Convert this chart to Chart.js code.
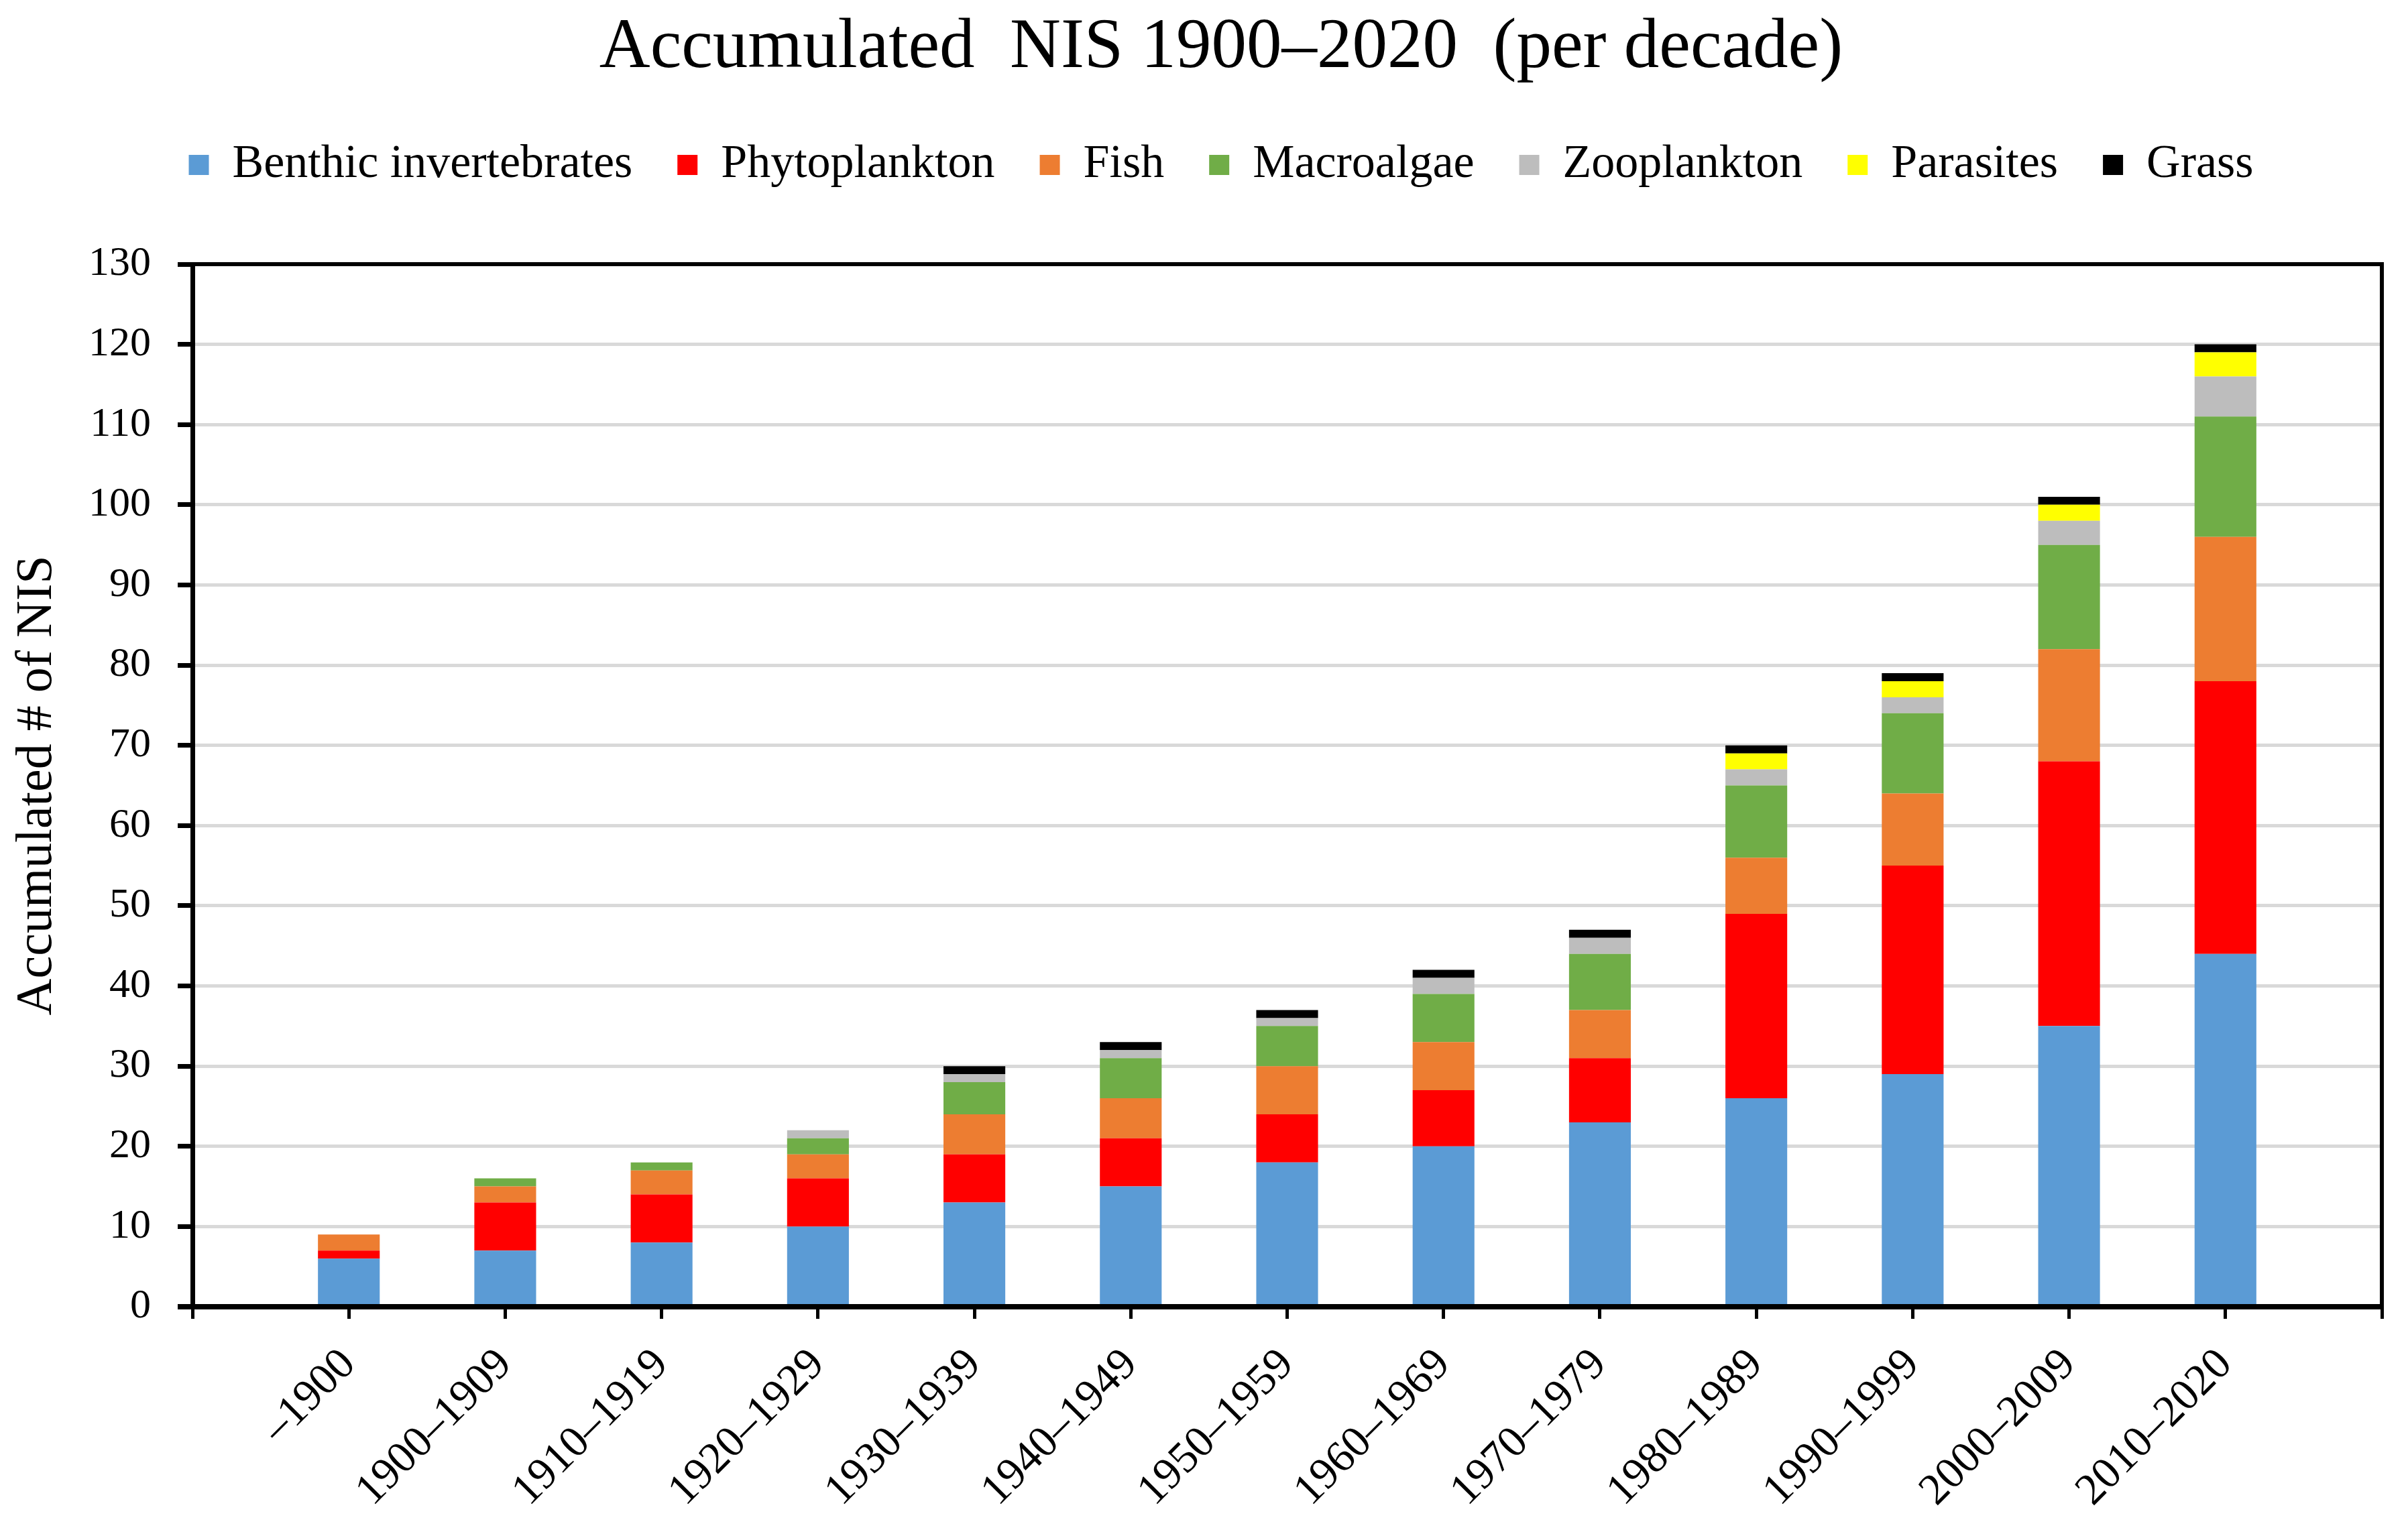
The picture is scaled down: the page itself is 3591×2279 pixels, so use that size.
<!DOCTYPE html>
<html lang="en">
<head>
<meta charset="utf-8">
<title>Accumulated NIS 1900–2020 (per decade)</title>
<script src="https://cdn.jsdelivr.net/npm/chart.js@4.4.1/dist/chart.umd.min.js"></script>
<style>
  html, body { margin: 0; padding: 0; background: #fff; overflow: hidden; }
  canvas { display: block; }
</style>
</head>
<body>
<canvas id="graficoNIS" width="3591" height="2279"></canvas>
<script>
// categories (decades)
const decades = ['–1900', '1900–1909', '1910–1919', '1920–1929', '1930–1939', '1940–1949', '1950–1959',
                 '1960–1969', '1970–1979', '1980–1989', '1990–1999', '2000–2009', '2010–2020'];

// accumulated number of NIS per group
const benthic       = [6, 7, 8, 10, 13, 15, 18, 20, 23, 26, 29, 35, 44];
const phytoplankton = [1, 6, 6, 6, 6, 6, 6, 7, 8, 23, 26, 33, 34];
const fish          = [2, 2, 3, 3, 5, 5, 6, 6, 6, 7, 9, 14, 18];
const macroalgae    = [0, 1, 1, 2, 4, 5, 5, 6, 7, 9, 10, 13, 15];
const zooplankton   = [0, 0, 0, 1, 1, 1, 1, 2, 2, 2, 2, 3, 5];
const parasites     = [0, 0, 0, 0, 0, 0, 0, 0, 0, 2, 2, 2, 3];
const grass         = [0, 0, 0, 0, 1, 1, 1, 1, 1, 1, 1, 1, 1];

const yMax = 130;
const yStep = 10;

const FONTE = '"Liberation Serif", "Times New Roman", serif';

// Excel-style axis: one empty slot at each end, bars sit on the tick marks
const labels = ['', ...decades, ''];
const pad = arr => [null, ...arr, null];

const series = [
  { label: 'Benthic invertebrates', data: benthic,       color: '#5B9BD5' },
  { label: 'Phytoplankton',         data: phytoplankton, color: '#FF0000' },
  { label: 'Fish',                  data: fish,          color: '#ED7D31' },
  { label: 'Macroalgae',            data: macroalgae,    color: '#70AD47' },
  { label: 'Zooplankton',           data: zooplankton,   color: '#BDBDBD' },
  { label: 'Parasites',             data: parasites,     color: '#FFFF00' },
  { label: 'Grass',                 data: grass,         color: '#000000' }
];

// top/right frame and the bottom axis line, drawn over the bars
const moldura = {
  id: 'moldura',
  afterDatasetsDraw(chart) {
    const { ctx, chartArea: a } = chart;
    ctx.save();
    ctx.strokeStyle = '#000';
    ctx.lineWidth = 6;
    ctx.beginPath();
    ctx.moveTo(a.left, a.top);
    ctx.lineTo(a.right, a.top);
    ctx.lineTo(a.right, a.bottom);
    ctx.stroke();
    ctx.lineWidth = 8;
    ctx.beginPath();
    ctx.moveTo(a.left - 22, a.bottom);
    ctx.lineTo(a.right + 3, a.bottom);
    ctx.stroke();
    ctx.restore();
  }
};

// extra room between the legend and the plot
const espacoLegenda = {
  id: 'espacoLegenda',
  afterInit(chart) {
    if (!chart.legend) return;
    const fitOriginal = chart.legend.fit;
    chart.legend.fit = function () {
      fitOriginal.call(this);
      this.height += 103;
    };
  }
};

new Chart(document.getElementById('graficoNIS'), {
  type: 'bar',
  data: {
    labels: labels,
    datasets: series.map(s => ({
      label: s.label,
      data: pad(s.data),
      backgroundColor: s.color,
      borderWidth: 0,
      categoryPercentage: 1,
      barPercentage: 0.395
    }))
  },
  options: {
    responsive: false,
    devicePixelRatio: 1,
    animation: false,
    layout: { padding: { left: 90, right: 39, top: 0, bottom: 0 } },
    plugins: {
      title: {
        display: true,
        text: 'Accumulated  NIS 1900–2020  (per decade)',
        color: '#000',
        font: { family: FONTE, size: 105, weight: 'normal' },
        padding: { top: 9, bottom: 9 }
      },
      legend: {
        position: 'top',
        labels: {
          boxWidth: 30,
          boxHeight: 30,
          padding: 67,
          color: '#000',
          font: { family: FONTE, size: 70 }
        }
      },
      tooltip: { enabled: false }
    },
    scales: {
      x: {
        stacked: true,
        offset: false,
        ticks: {
          autoSkip: false,
          minRotation: 45,
          maxRotation: 45,
          padding: 30,
          color: '#000',
          font: { family: FONTE, size: 66 }
        },
        grid: { offset: false, drawOnChartArea: false, tickLength: 18, tickColor: '#000', tickWidth: 5 },
        border: { display: false },
        afterFit(scale) {
          scale.height = 330;
          scale.paddingLeft = 0;
          scale.paddingRight = 0;
        }
      },
      y: {
        stacked: true,
        min: 0,
        max: yMax,
        ticks: {
          stepSize: yStep,
          padding: 40,
          color: '#000',
          font: { family: FONTE, size: 62 }
        },
        grid: {
          color: c => (c.tick && (c.tick.value === 0 || c.tick.value === yMax)) ? 'rgba(0,0,0,0)' : '#D9D9D9',
          lineWidth: 5,
          tickLength: 22,
          tickColor: '#000',
          tickWidth: 7
        },
        border: { color: '#000', width: 7 },
        title: {
          display: true,
          text: 'Accumulated # of NIS',
          color: '#000',
          font: { family: FONTE, size: 76 },
          padding: { top: -80, bottom: 0 }
        },
        afterFit(scale) { scale.width = 287 - 90; }
      }
    }
  },
  plugins: [moldura, espacoLegenda]
});
</script>
</body>
</html>
